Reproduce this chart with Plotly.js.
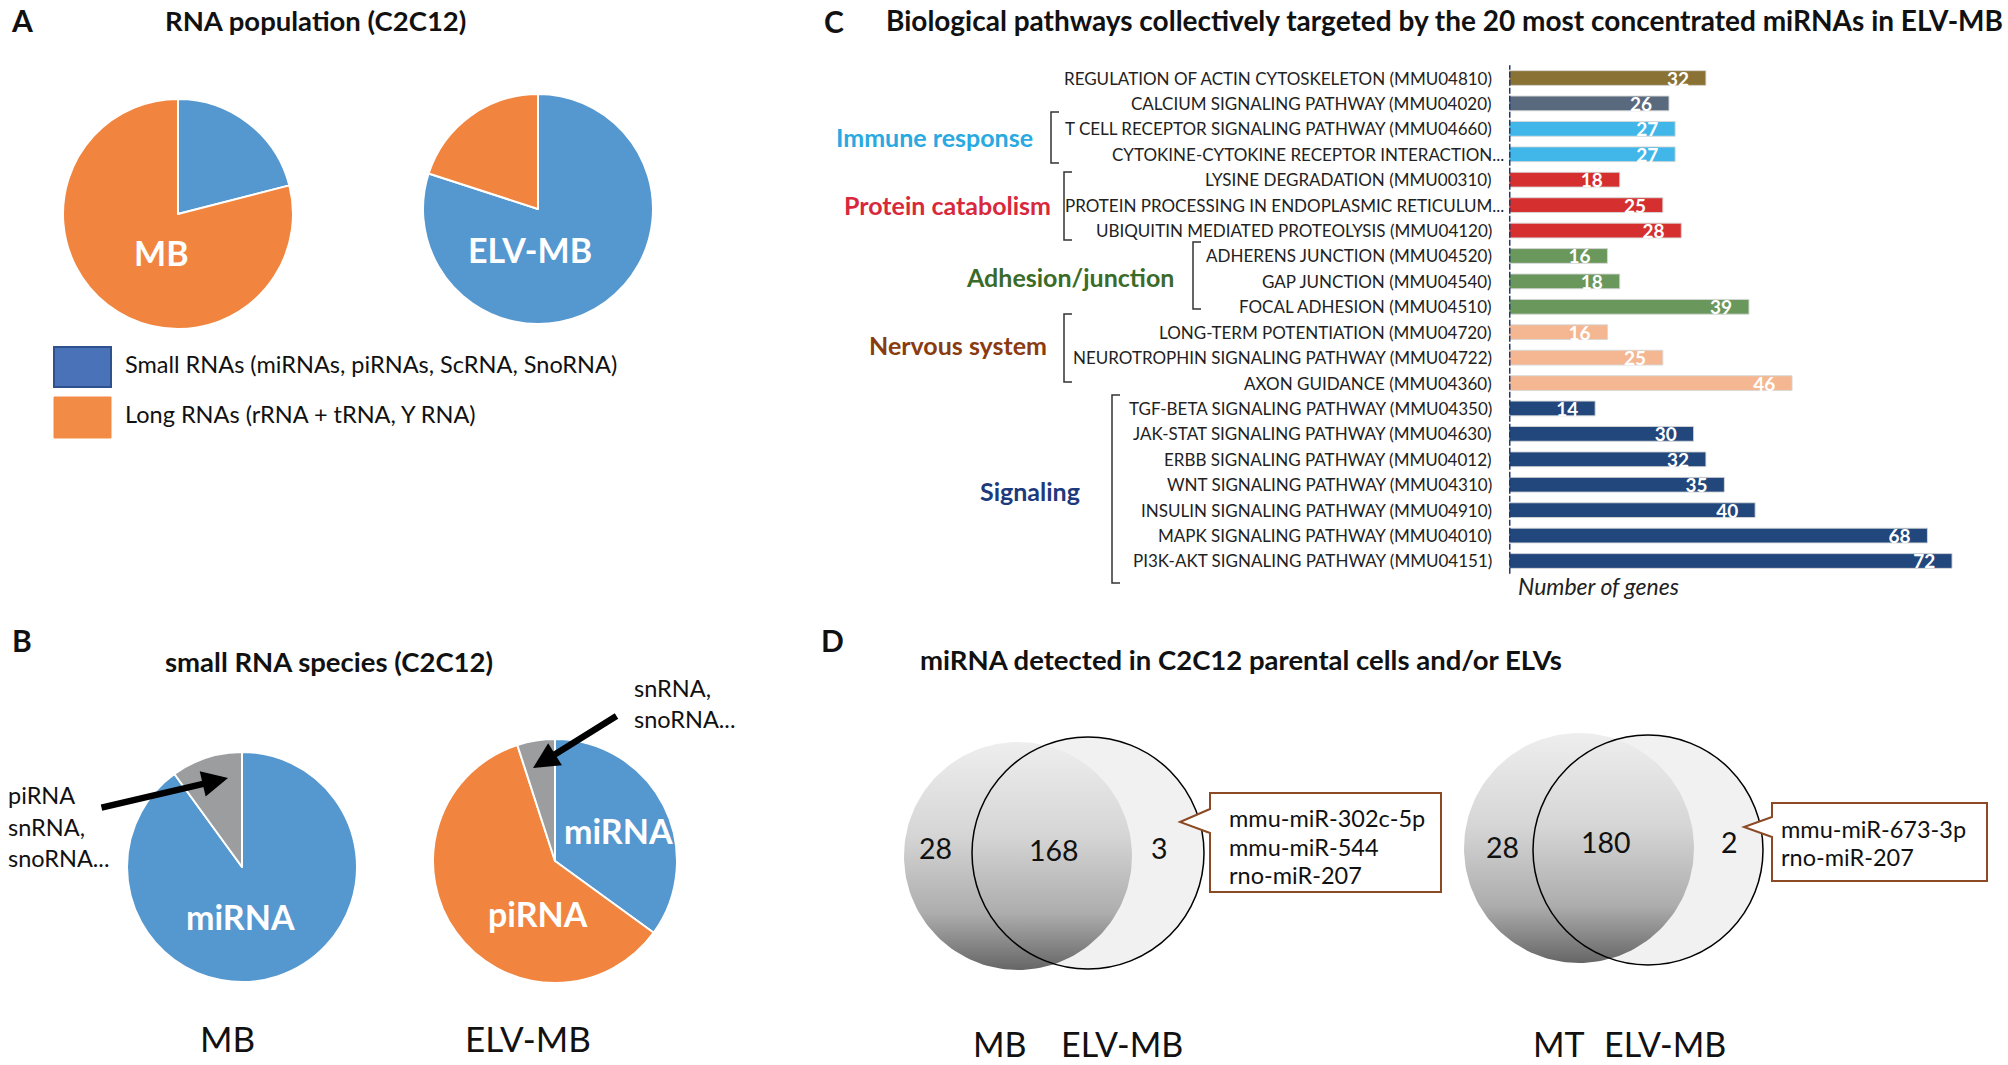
<!DOCTYPE html>
<html><head><meta charset="utf-8">
<script src="https://cdn.plot.ly/plotly-3.0.1.min.js"></script>
<style>html,body{margin:0;padding:0;background:#fff}#chart{width:2008px;height:1065px}</style>
</head><body><div id="chart"></div>
<script>
const W = 2008, H = 1065;
// ---------------- data ----------------
const rnaTypes = ['Small RNAs (miRNAs, piRNAs, ScRNA, SnoRNA)', 'Long RNAs (rRNA + tRNA, Y RNA)'];
const rnaSamples = ['MB', 'ELV-MB'];
const rnaMB = [21, 79];
const rnaELV = [80, 20];

const smallTypesMB = ['miRNA', 'piRNA, snRNA, snoRNA...'];
const smallMB = [90, 10];
const smallTypesELV = ['miRNA', 'piRNA', 'snRNA, snoRNA...'];
const smallELV = [35, 60, 5];

const pathways = [
  'REGULATION OF ACTIN CYTOSKELETON (MMU04810)',
  'CALCIUM SIGNALING PATHWAY (MMU04020)',
  'T CELL RECEPTOR SIGNALING PATHWAY (MMU04660)',
  'CYTOKINE-CYTOKINE RECEPTOR INTERACTION...',
  'LYSINE DEGRADATION (MMU00310)',
  'PROTEIN PROCESSING IN ENDOPLASMIC RETICULUM...',
  'UBIQUITIN MEDIATED PROTEOLYSIS (MMU04120)',
  'ADHERENS JUNCTION (MMU04520)',
  'GAP JUNCTION (MMU04540)',
  'FOCAL ADHESION (MMU04510)',
  'LONG-TERM POTENTIATION (MMU04720)',
  'NEUROTROPHIN SIGNALING PATHWAY (MMU04722)',
  'AXON GUIDANCE (MMU04360)',
  'TGF-BETA SIGNALING PATHWAY (MMU04350)',
  'JAK-STAT SIGNALING PATHWAY (MMU04630)',
  'ERBB SIGNALING PATHWAY (MMU04012)',
  'WNT SIGNALING PATHWAY (MMU04310)',
  'INSULIN SIGNALING PATHWAY (MMU04910)',
  'MAPK SIGNALING PATHWAY (MMU04010)',
  'PI3K-AKT SIGNALING PATHWAY (MMU04151)'
];
const geneCounts = [32, 26, 27, 27, 18, 25, 28, 16, 18, 39, 16, 25, 46, 14, 30, 32, 35, 40, 68, 72];
const pathwayGroup = ['actin', 'calcium', 'immune', 'immune', 'protein', 'protein', 'protein',
  'adhesion', 'adhesion', 'adhesion', 'nervous', 'nervous', 'nervous',
  'signaling', 'signaling', 'signaling', 'signaling', 'signaling', 'signaling', 'signaling'];
const groupKeys = ['immune', 'protein', 'adhesion', 'nervous', 'signaling'];
const groupNames = ['Immune response', 'Protein catabolism', 'Adhesion/junction', 'Nervous system', 'Signaling'];

const vennPairs = [['MB', 'ELV-MB'], ['MT', 'ELV-MB']];
const vennCounts = [[28, 168, 3], [28, 180, 2]];
const vennUnique = [['mmu-miR-302c-5p', 'mmu-miR-544', 'rno-miR-207'], ['mmu-miR-673-3p', 'rno-miR-207']];

// ---------------- styles ----------------
const FONT = 'Lato, "Open Sans", "Noto Sans", sans-serif';
const BLUE = '#5597cf', ORANGE = '#f1843e', GREY = '#9b9d9f';
const groupColor = {actin: '#8a7234', calcium: '#5a6a7e', immune: '#41b7e9', protein: '#d5302f',
  adhesion: '#6a985c', nervous: '#f4b792', signaling: '#22477c'};
const groupTextColor = {immune: '#29a9e1', protein: '#d8283c', adhesion: '#3a6b28', nervous: '#8a3b10', signaling: '#1d3a7c'};

const traces = [];
function pie(labels, values, colors, cx, cy, r) {
  return {type: 'pie', labels: labels, values: values, sort: false, direction: 'clockwise', rotation: 0,
    marker: {colors: colors, line: {color: '#ffffff', width: 2}}, textinfo: 'none',
    hoverinfo: 'label+percent', showlegend: false,
    domain: {x: [(cx - r) / W, (cx + r) / W], y: [1 - (cy + r) / H, 1 - (cy - r) / H]}};
}
traces.push(pie(rnaTypes, rnaMB, [BLUE, ORANGE], 178, 214, 115));
traces.push(pie(rnaTypes, rnaELV, [BLUE, ORANGE], 538, 209, 115));
traces.push(pie(smallTypesMB, smallMB, [BLUE, GREY], 242, 867, 115));
traces.push(pie(smallTypesELV, smallELV, [BLUE, ORANGE, GREY], 555, 861, 122));

// bars (panel C)
traces.push({type: 'bar', orientation: 'h', y: pathways, x: geneCounts, xaxis: 'x', yaxis: 'y',
  width: 0.58,
  marker: {color: pathwayGroup.map(g => groupColor[g]), line: {color: 'rgba(215,215,215,0.9)', width: 1}},
  texttemplate: '%{x}\u00a0\u00a0\u00a0', textposition: 'inside', insidetextanchor: 'end',
  textfont: {family: FONT, size: 19, color: '#ffffff', weight: 'bold'}, constraintext: 'none',
  hoverinfo: 'y+x', showlegend: false});

// Venn circles (panel D), pixel-mapped axes x2/y2
function circlePts(cx, cy, r) {
  const xs = [], ys = [];
  for (let i = 0; i <= 160; i++) { const t = 2 * Math.PI * i / 160; xs.push(cx + r * Math.cos(t)); ys.push(cy + r * Math.sin(t)); }
  return {xs, ys};
}
const vennGeom = [
  {L: [1018, 856, 114], R: [1088, 853, 116]},
  {L: [1579, 848, 115], R: [1648, 850, 115]}
];
const shapes = [];
const annotations = [];
vennGeom.forEach(g => {
  const rc = circlePts(...g.R);
  traces.push({type: 'scatter', x: rc.xs, y: rc.ys, xaxis: 'x2', yaxis: 'y2', mode: 'lines', line: {width: 0},
    fill: 'toself', fillcolor: '#f1f1f1', hoverinfo: 'skip', showlegend: false});
  const lc = circlePts(...g.L);
  traces.push({type: 'scatter', x: lc.xs, y: lc.ys, xaxis: 'x2', yaxis: 'y2', mode: 'lines', line: {width: 0},
    fill: 'toself', hoverinfo: 'skip', showlegend: false,
    fillgradient: {type: 'vertical', start: g.L[1] - g.L[2], stop: g.L[1] + g.L[2],
      colorscale: [[0, '#eeeeee'], [0.4, '#d6d6d6'], [0.75, '#adadad'], [1, '#666666']]}});
  shapes.push({type: 'circle', xref: 'x2', yref: 'y2', x0: g.R[0] - g.R[2], x1: g.R[0] + g.R[2],
    y0: g.R[1] - g.R[2], y1: g.R[1] + g.R[2], line: {color: '#000', width: 1.5}, fillcolor: 'rgba(0,0,0,0)'});
});

// ---------------- helpers ----------------
function txt(text, x, y, size, opts) {
  opts = opts || {};
  annotations.push({text: text, x: x, y: y, xref: 'x2', yref: 'y2', showarrow: false,
    xanchor: opts.anchor || 'center', yanchor: 'middle',
    font: {family: FONT, size: size, color: opts.color || '#111', weight: opts.bold ? 'bold' : 'normal', style: opts.italic ? 'italic' : 'normal'}});
}
function rect(x0, y0, x1, y1, fill, line, lw) {
  shapes.push({type: 'rect', xref: 'x2', yref: 'y2', x0, y0, x1, y1, fillcolor: fill, line: {color: line, width: lw}});
}
function path(p, color, width, fill) {
  shapes.push({type: 'path', xref: 'x2', yref: 'y2', path: p, line: {color: color, width: width}, fillcolor: fill || 'rgba(0,0,0,0)'});
}

// panel letters and titles
txt('A', 22, 20, 30, {bold: true});
txt('B', 22, 640, 30, {bold: true});
txt('C', 834, 21, 30, {bold: true});
txt('D', 832, 640, 30, {bold: true});
txt('RNA population (C2C12)', 315, 20, 27.5, {bold: true});
txt('small RNA species (C2C12)', 329, 661, 27.5, {bold: true});
txt('Biological pathways collectively targeted by the 20 most concentrated miRNAs in ELV-MB', 884, 20, 28, {bold: true, anchor: 'left'});
txt('miRNA detected in C2C12 parental cells and/or ELVs', 918, 659, 27.5, {bold: true, anchor: 'left'});

// panel A labels + legend
txt(rnaSamples[0], 161, 252, 34, {bold: true, color: '#fff'});
txt(rnaSamples[1], 530, 249, 34, {bold: true, color: '#fff'});
rect(54, 347, 111, 387, '#4a72b8', '#2f528f', 2);
rect(54, 397, 111, 438, '#f28b45', '#f28b45', 1);
txt(rnaTypes[0], 123, 364, 23.5, {anchor: 'left'});
txt(rnaTypes[1], 123, 414, 23.5, {anchor: 'left'});

// panel B labels
txt(smallTypesMB[0], 240, 916, 34, {bold: true, color: '#fff'});
txt(smallTypesELV[0], 618, 830, 34, {bold: true, color: '#fff'});
txt(smallTypesELV[1], 538, 913, 34, {bold: true, color: '#fff'});
txt('piRNA', 6, 795, 23.5, {anchor: 'left'});
txt('snRNA,', 6, 827, 23.5, {anchor: 'left'});
txt('snoRNA...', 6, 858, 23.5, {anchor: 'left'});
txt('snRNA,', 632, 688, 23.5, {anchor: 'left'});
txt('snoRNA...', 632, 719, 23.5, {anchor: 'left'});
annotations.push({text: '', x: 228, y: 778, xref: 'x2', yref: 'y2', ax: -128, ay: 30, showarrow: true,
  arrowhead: 2, arrowsize: 0.8, arrowwidth: 6.5, arrowcolor: '#000'});
annotations.push({text: '', x: 533, y: 768, xref: 'x2', yref: 'y2', ax: 85, ay: -53, showarrow: true,
  arrowhead: 2, arrowsize: 0.8, arrowwidth: 6.5, arrowcolor: '#000'});
txt(rnaSamples[0], 227, 1038, 35);
txt(rnaSamples[1], 528, 1038, 35);

// panel C category labels (placed on the category axis rows)
pathways.forEach(p => {
  const truncated = p.endsWith('...');
  annotations.push({text: p, xref: 'paper', yref: 'y', x: (truncated ? 1506 : 1494) / W, y: p,
    xanchor: 'right', yanchor: 'middle', showarrow: false,
    font: {family: FONT, size: 17, color: '#222'}});
});
// group labels + brackets
const groupLabelPos = [[1035, 137], [1053, 205], [1176, 277], [1049, 345], [1082, 491]];
const bracketPos = [[1051, 112, 163], [1064, 172, 240], [1193, 242, 309], [1064, 314, 382], [1112, 395, 583]];
groupKeys.forEach((k, i) => {
  txt(groupNames[i], groupLabelPos[i][0], groupLabelPos[i][1], 25, {bold: true, color: groupTextColor[k], anchor: 'right'});
  const b = bracketPos[i];
  path(`M${b[0] + 8},${b[1]} L${b[0]},${b[1]} L${b[0]},${b[2]} L${b[0] + 8},${b[2]}`, '#333', 1.5);
});
shapes.push({type: 'line', xref: 'x', yref: 'y domain', x0: 0, x1: 0, y0: 0, y1: 1,
  line: {color: '#1f3a6e', width: 3, dash: '6px,2px'}});
txt('Number of genes', 1516, 586, 23, {italic: true, anchor: 'left', color: '#222'});

// panel D texts
const vennNumPos = [[[935, 848], [1054, 850], [1159, 848]], [[1502, 847], [1606, 842], [1729, 842]]];
const vennLabelPos = [[1000, 1122], [1559, 1665]];
const calloutBox = [
  {x0: 1210, y0: 793, x1: 1441, y1: 892, tip: [1180, 822], b0: 809, b1: 833, tx: 1227, ty: [818, 847, 875]},
  {x0: 1772, y0: 803, x1: 1987, y1: 881, tip: [1744, 827], b0: 817, b1: 837, tx: 1779, ty: [829, 857]}
];
vennCounts.forEach((cnts, i) => {
  cnts.forEach((c, j) => txt(String(c), vennNumPos[i][j][0], vennNumPos[i][j][1], 28.5));
  txt(vennPairs[i][0], vennLabelPos[i][0], 1043, 34);
  txt(vennPairs[i][1], vennLabelPos[i][1], 1043, 34);
  const cb = calloutBox[i];
  path(`M${cb.x0},${cb.y0} L${cb.x1},${cb.y0} L${cb.x1},${cb.y1} L${cb.x0},${cb.y1} L${cb.x0},${cb.b1} L${cb.tip[0]},${cb.tip[1]} L${cb.x0},${cb.b0} Z`,
    '#8b4a24', 2, '#ffffff');
  vennUnique[i].forEach((m, j) => txt(m, cb.tx, cb.ty[j], 23.5, {anchor: 'left'}));
});

const layout = {
  width: W, height: H, margin: {l: 0, r: 0, t: 0, b: 0},
  paper_bgcolor: '#ffffff', plot_bgcolor: 'rgba(0,0,0,0)',
  font: {family: FONT, color: '#111'},
  showlegend: false,
  xaxis: {domain: [1509 / W, 1970.5 / W], range: [0, 75], visible: false, fixedrange: true, anchor: 'y'},
  yaxis: {domain: [1 - 573.7 / H, 1 - 65.3 / H], type: 'category', autorange: 'reversed', anchor: 'x',
    showgrid: false, zeroline: false, showline: false, showticklabels: false, ticks: '', fixedrange: true},
  xaxis2: {domain: [0, 1], range: [0, W], visible: false, fixedrange: true, anchor: 'y2'},
  yaxis2: {domain: [0, 1], range: [H, 0], visible: false, fixedrange: true, anchor: 'x2'},
  shapes: shapes, annotations: annotations
};
Plotly.newPlot('chart', traces, layout, {displayModeBar: false, responsive: false});
</script></body></html>
